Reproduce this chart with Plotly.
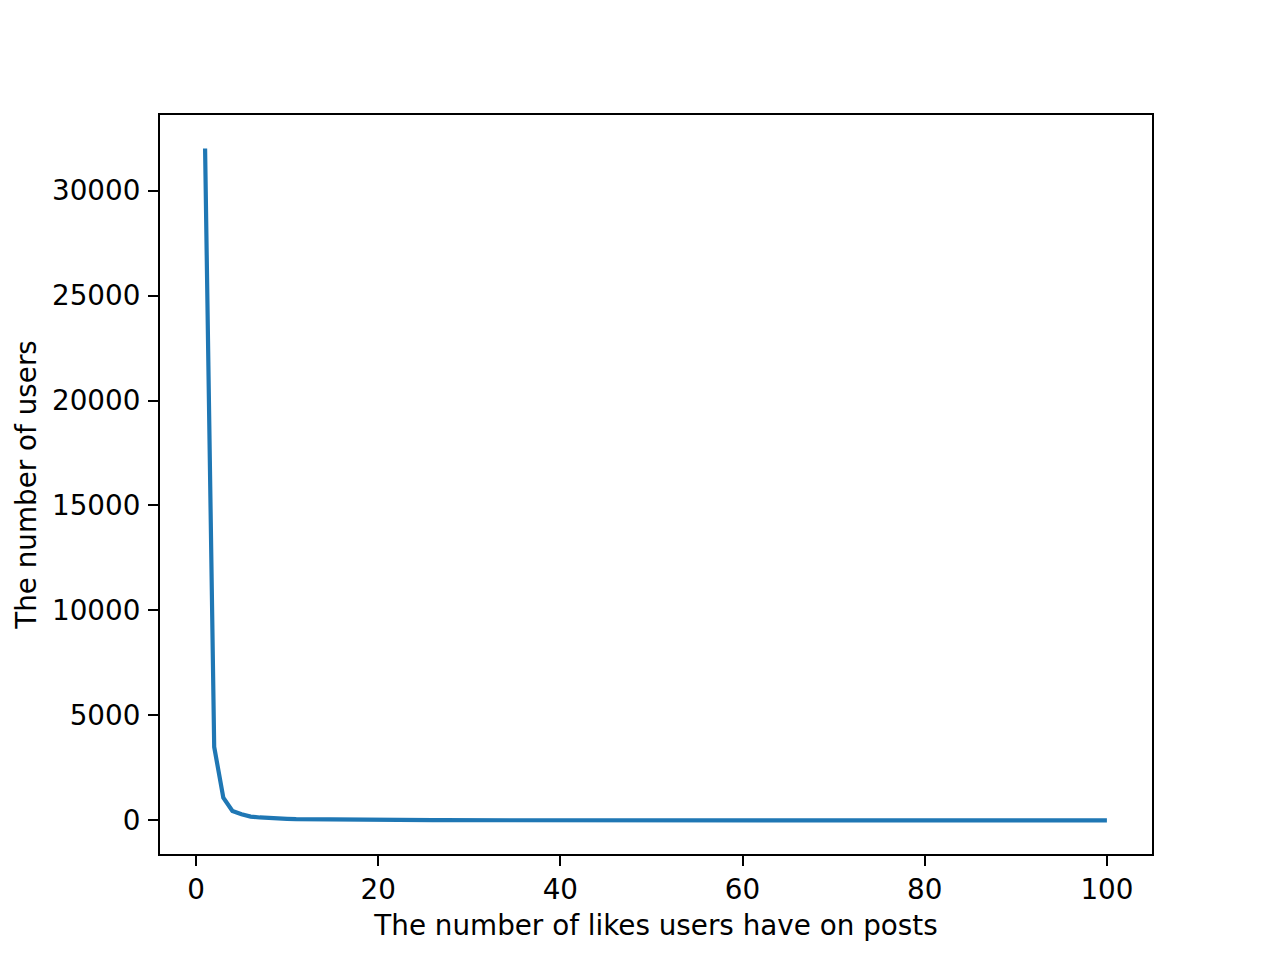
import plotly.graph_objects as go

likes = list(range(1, 101))
users = [
    32000, 3500, 1080, 450, 290, 180, 140, 105, 90, 75,
    62, 55, 48, 40, 35, 30, 26, 22, 19, 17,
    15, 14, 13, 12, 11, 10, 9, 9, 8, 8,
    7, 7, 6, 6, 6, 5, 5, 5, 5, 4,
    4, 4, 4, 3, 3, 3, 3, 3, 3, 2,
    2, 2, 2, 2, 2, 2, 2, 2, 2, 1,
    2, 1, 1, 1, 1, 1, 1, 1, 1, 1,
    1, 1, 1, 1, 1, 1, 1, 1, 1, 1,
    1, 1, 1, 1, 1, 1, 1, 1, 1, 1,
    1, 1, 1, 1, 1, 1, 1, 1, 1, 1,
]
x_ticks = [0, 20, 40, 60, 80, 100]
y_ticks = [0, 5000, 10000, 15000, 20000, 25000, 30000]

font = dict(family="DejaVu Sans", size=27.8, color="black")

fig = go.Figure(go.Scatter(
    x=likes, y=users, mode="lines",
    line=dict(color="#1f77b4", width=4.2),
    showlegend=False,
))

axis_common = dict(
    showgrid=False, zeroline=False, showline=True, linecolor="black",
    linewidth=2, mirror=True, ticks="outside", ticklen=10, tickwidth=2,
    tickcolor="black", tickfont=font,
)

fig.update_xaxes(
    range=[-3.95, 104.95], tickvals=x_ticks, ticklabelstandoff=0,
    title=dict(text="The number of likes users have on posts", font=font, standoff=10),
    **axis_common,
)
fig.update_yaxes(
    range=[-1600, 33600], tickvals=y_ticks, tickformat="d", ticklabelstandoff=2,
    title=dict(text="The number of users", font=font, standoff=7),
    **axis_common,
)

fig.update_layout(
    width=1280, height=960,
    margin=dict(l=152, r=136, t=107, b=114, autoexpand=False),
    plot_bgcolor="white", paper_bgcolor="white",
    font=font,
)

fig.write_html("out.html")
